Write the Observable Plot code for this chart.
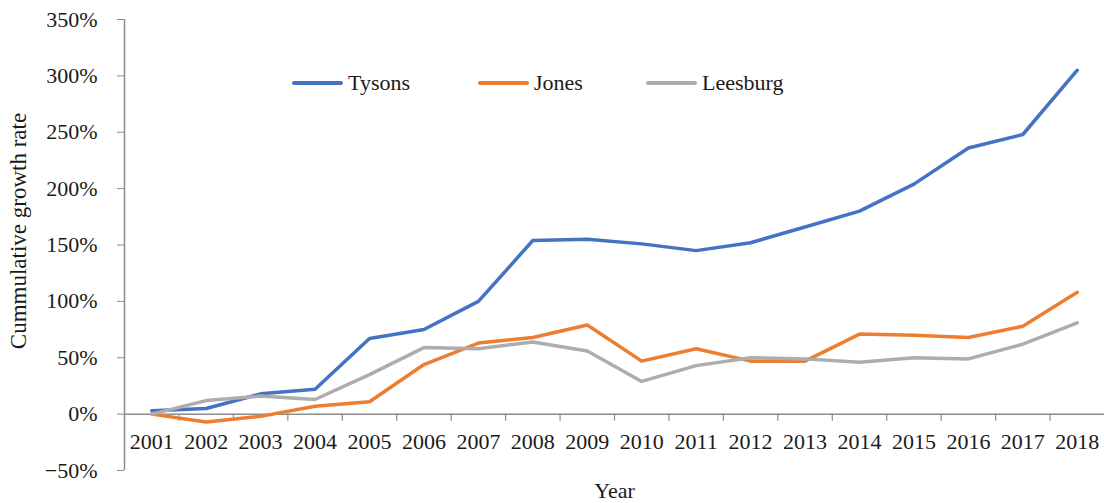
<!DOCTYPE html>
<html>
<head>
<meta charset="utf-8">
<script src="https://cdn.jsdelivr.net/npm/d3@7"></script>
<script src="https://cdn.jsdelivr.net/npm/@observablehq/plot@0.6"></script>
<style>
  html, body { margin: 0; padding: 0; background: #fff; }
  #wrap { position: relative; width: 1104px; height: 503px; font-family: "Liberation Serif", "Times New Roman", serif; }
  .item { position: absolute; top: 70px; display: flex; align-items: center; font-size: 22px; color: #1a1a1a; white-space: nowrap; }
  .sw { width: 51px; height: 4px; border-radius: 2px; margin-right: 5px; }
</style>
</head>
<body>
<div id="wrap"></div>
<script>
const years = [2001,2002,2003,2004,2005,2006,2007,2008,2009,2010,2011,2012,2013,2014,2015,2016,2017,2018];
const tysons   = [0.03,0.05,0.18,0.22,0.67,0.75,1.00,1.54,1.55,1.51,1.45,1.52,1.66,1.80,2.04,2.36,2.48,3.05];
const jones    = [0.00,-0.07,-0.02,0.07,0.11,0.44,0.63,0.68,0.79,0.47,0.58,0.47,0.47,0.71,0.70,0.68,0.78,1.08];
const leesburg = [0.00,0.12,0.16,0.13,0.35,0.59,0.58,0.64,0.56,0.29,0.43,0.50,0.49,0.46,0.50,0.49,0.62,0.81];
const seriesNames = ["Tysons", "Jones", "Leesburg"];
const seriesColors = ["#4472C4", "#ED7D31", "#ADADAD"];
const yTicks = [-0.5, 0, 0.5, 1, 1.5, 2, 2.5, 3, 3.5];
const yTitle = "Cummulative growth rate";
const xTitle = "Year";
const sepTicks = years.slice(0, -1).map(y => y + 0.5);

const seriesValues = [tysons, jones, leesburg];
const data = [];
seriesNames.forEach((name, s) => years.forEach((yr, i) => data.push({year: yr, value: seriesValues[s][i], series: name})));

const axisColor = "#8c8c8c";
const textColor = "#1a1a1a";
const fs = 22;

const chart = Plot.plot({
  width: 1104,
  height: 503,
  marginLeft: 124,
  marginRight: 0,
  marginTop: 19,
  marginBottom: 33,
  style: {fontFamily: '"Liberation Serif", "Times New Roman", serif', fontSize: fs + "px", color: textColor, background: "transparent"},
  x: {type: "linear", domain: [years[0] - 0.5, years[years.length - 1] + 0.5], label: null},
  y: {domain: [-0.5, 3.5], label: null},
  color: {domain: seriesNames, range: seriesColors},
  marks: [
    Plot.ruleX([years[0] - 0.5], {stroke: axisColor, strokeWidth: 1.5}),
    Plot.axisY({ticks: yTicks, tickFormat: d3.format(".0%"), tickSize: 7, tickPadding: 20, stroke: axisColor, fill: textColor, fontSize: fs, label: null}),
    Plot.text([yTitle], {frameAnchor: "left", rotate: -90, textAnchor: "middle", dx: -106, dy: -14, fontSize: 23, fill: textColor}),
    Plot.axisX({ticks: [], label: xTitle, labelAnchor: "center", labelOffset: 27, labelArrow: "none", fontSize: fs, fill: textColor}),
    Plot.ruleY([0], {stroke: axisColor, strokeWidth: 1.5}),
    Plot.ruleX(sepTicks, {x: d => d, y1: 0, y2: 0, insetBottom: -7, stroke: axisColor, strokeWidth: 1.2}),
    Plot.text(years, {x: d => d, y: 0, text: d => String(d), dy: 28, fill: textColor, fontSize: fs}),
    Plot.line(data, {x: "year", y: "value", z: "series", stroke: "series", strokeWidth: 3.5, strokeLinejoin: "round", strokeLinecap: "round"})
  ]
});
const wrap = document.getElementById("wrap");
wrap.appendChild(chart);

const legendLeft = [292, 478, 646];
seriesNames.forEach((name, i) => {
  const it = document.createElement("div");
  it.className = "item";
  it.style.left = legendLeft[i] + "px";
  const sw = document.createElement("span");
  sw.className = "sw";
  sw.style.background = seriesColors[i];
  const t = document.createElement("span");
  t.textContent = name;
  it.appendChild(sw); it.appendChild(t);
  wrap.appendChild(it);
});
</script>
</body>
</html>
